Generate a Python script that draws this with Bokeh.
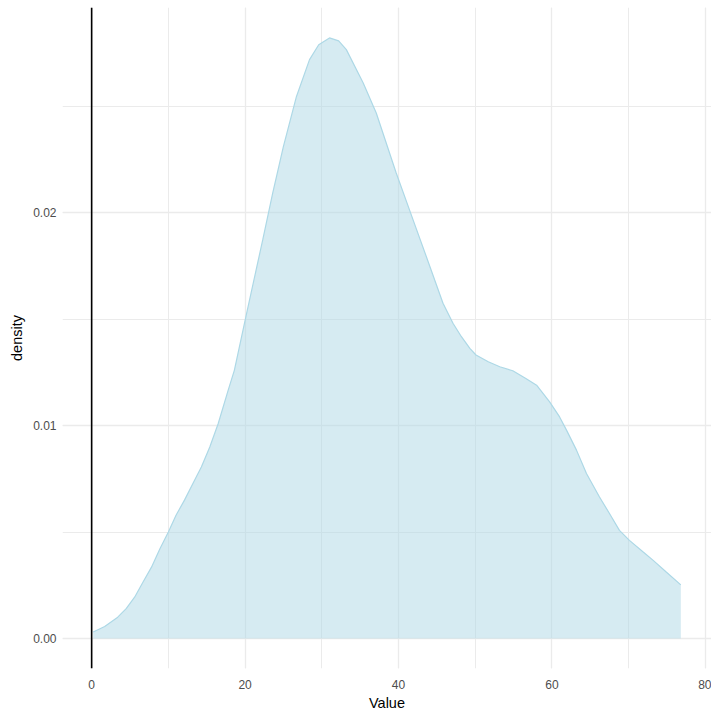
from bokeh.plotting import figure
from bokeh.models import Span, SingleIntervalTicker, Range1d, PrintfTickFormatter, ColumnDataSource
from bokeh.embed import file_html
from bokeh.resources import INLINE

# Density curve (x = Value, y = density)
value_x = [0.2, 1.7, 3.4, 4.5, 5.6, 6.7, 7.8, 8.9, 10.0, 11.0, 12.1, 13.2, 14.3, 15.4, 16.5,
           17.8, 18.6, 20.2, 22.3, 23.6, 25.0, 26.7, 28.4, 29.6, 31.0, 32.2, 33.2, 35.4, 37.1,
           39.7, 41.9, 44.1, 45.8, 47.1, 48.2, 49.3, 50.1, 51.7, 53.2, 54.9, 56.6, 58.0, 59.7,
           61.0, 61.9, 63.2, 64.5, 66.2, 67.5, 68.8, 70.1, 71.9, 73.2, 74.9, 76.8]
density_y = [0.0003, 0.00056, 0.0010, 0.0014, 0.00194, 0.00265, 0.00335, 0.00422, 0.0050,
             0.00579, 0.0065, 0.00728, 0.00806, 0.0090, 0.0101, 0.01167, 0.0126, 0.01528,
             0.01873, 0.02093, 0.02312, 0.02547, 0.0272, 0.0279, 0.02822, 0.02808, 0.02767,
             0.0261, 0.02469, 0.02187, 0.01967, 0.01747, 0.01575, 0.01481, 0.01418, 0.01363,
             0.01332, 0.0130, 0.01277, 0.01258, 0.01222, 0.0119, 0.01112, 0.01041, 0.00979,
             0.00885, 0.00775, 0.00665, 0.00587, 0.00508, 0.00461, 0.00406, 0.00367, 0.00312,
             0.00252]
baseline = [0.0] * len(value_x)
vline_x = 0

x_label = "Value"
y_label = "density"

src = ColumnDataSource(dict(x=value_x, y=density_y, y0=baseline))

p = figure(frame_width=649, frame_height=661, output_backend="svg", toolbar_location=None,
           x_range=Range1d(-3.8, 80.8), y_range=Range1d(-0.001412, 0.02965),
           min_border_left=62, min_border_right=0, min_border_top=7, min_border_bottom=40)
p.outline_line_color = None
p.background_fill_color = "white"

p.varea(x="x", y1="y0", y2="y", source=src, fill_color="#ADD8E6", fill_alpha=0.5)
p.line(x="x", y="y", source=src, line_color="#ADD8E6", line_width=1.2)

p.add_layout(Span(location=vline_x, dimension="height", line_color="black", line_width=1.6))

p.xaxis.ticker = SingleIntervalTicker(interval=20, num_minor_ticks=2)
p.yaxis.ticker = SingleIntervalTicker(interval=0.01, num_minor_ticks=2)
p.yaxis.formatter = PrintfTickFormatter(format="%.2f")
p.xaxis.formatter = PrintfTickFormatter(format="%d")

for g in (p.xgrid, p.ygrid):
    g.grid_line_color = "#EBEBEB"
    g.grid_line_width = 1.3
    g.minor_grid_line_color = "#EBEBEB"
    g.minor_grid_line_width = 1.0

for ax in (p.xaxis, p.yaxis):
    ax.axis_line_color = None
    ax.major_tick_line_color = None
    ax.minor_tick_line_color = None
    ax.major_tick_in = 0
    ax.major_tick_out = 0
    ax.minor_tick_in = 0
    ax.minor_tick_out = 0
    ax.major_label_text_font = "Liberation Sans"
    ax.major_label_text_font_size = "12px"
    ax.major_label_text_color = "#4D4D4D"
    ax.axis_label_text_font = "Liberation Sans"
    ax.axis_label_text_font_size = "14.5px"
    ax.axis_label_text_font_style = "normal"
    ax.axis_label_text_color = "black"

p.xaxis.axis_label = x_label
p.yaxis.axis_label = y_label
p.xaxis.major_label_standoff = 11
p.xaxis.axis_label_standoff = 3
p.yaxis.major_label_standoff = 6
p.yaxis.axis_label_standoff = 5

open("out.html", "w").write(file_html(p, INLINE))
